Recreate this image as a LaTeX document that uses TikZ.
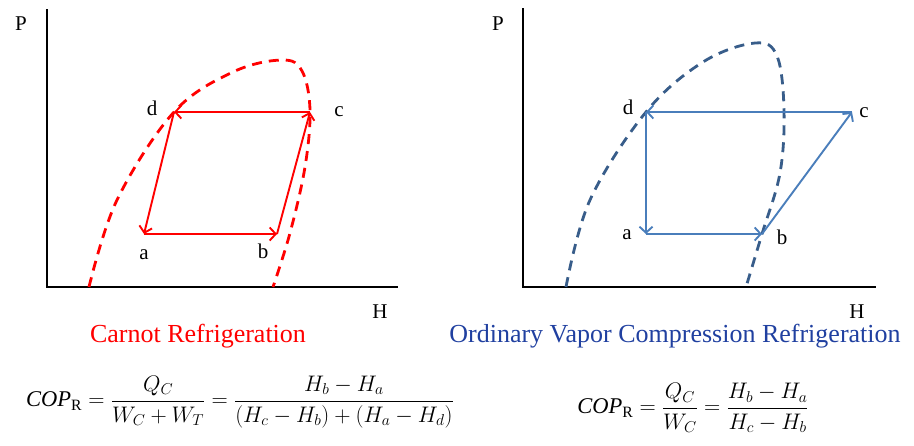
\documentclass[tikz,border=0pt]{standalone}
\usepackage{fix-cm}
\usepackage{amsmath}
\usepackage{fontspec}
\setmainfont{Liberation Serif}
\usetikzlibrary{arrows.meta}

\definecolor{carnotred}{RGB}{255,0,0}
\definecolor{vaporblue}{RGB}{74,126,187}
\definecolor{domeblue}{RGB}{56,93,138}
\definecolor{titleblue}{RGB}{32,64,160}

\begin{document}
\begin{tikzpicture}[x=1pt, y=-1pt,
  every node/.style={font=\fontsize{21}{24}\selectfont, inner sep=0pt},
  axis/.style={line width=1.3pt},
  dome/.style={line width=2.8pt, dash pattern=on 10pt off 7pt},
  arr/.style={-{Straight Barb[length=6pt,width=13pt]}, line width=1.9pt},
  ttl/.style={font=\fontsize{26}{30}\selectfont},
  eqn/.style={font=\fontsize{22.5}{26}\selectfont}
]
  \useasboundingbox (0,0) rectangle (914,445);

  % Carnot cycle
  \draw[axis] (47,9) -- (47,287) -- (398,287);
  \node (P1) at (21,24) {P};
  \node (H1) at (380,312) {H};
  \draw[dome, carnotred] plot[smooth, tension=0.6] coordinates
    {(89,287) (117,200) (174,112) (233,72) (282,60) (302,71) (310,110) (305,167) (290,233) (273,287)};
  \coordinate (a1) at (144,234);
  \coordinate (b1) at (277,234);
  \coordinate (c1) at (310,112);
  \coordinate (d1) at (174,112);
  \node (la1) at (144,255) {a};
  \node (lb1) at (263,251) {b};
  \node (lc1) at (339,112) {c};
  \node (ld1) at (152,108) {d};
  \draw[arr, carnotred] (a1) -- (b1);
  \draw[arr, carnotred] (b1) -- (c1);
  \draw[arr, carnotred] (c1) -- (d1);
  \draw[arr, carnotred] (d1) -- (a1);
  \node[ttl, text=carnotred] (T1) at (198,336) {Carnot Refrigeration};
  \node[eqn] (E1) at (240,402)
    {$\mathit{COP}_{\mathrm{R}} = \dfrac{Q_C}{W_C+W_T} = \dfrac{H_b-H_a}{(H_c-H_b)+(H_a-H_d)}$};

  % vapor compression cycle
  \draw[axis] (523,8) -- (523,287) -- (876,287);
  \node (P2) at (498,24) {P};
  \node (H2) at (857,312) {H};
  \draw[dome, domeblue] plot[smooth, tension=0.6] coordinates
    {(566,287) (590,200) (646,112) (703,62) (755,43) (777,56) (784,110) (780,173) (762,234) (746,287)};
  \coordinate (a2) at (646,234);
  \coordinate (b2) at (762,234);
  \coordinate (c2) at (852,112);
  \coordinate (d2) at (646,112);
  \node (la2) at (627,235) {a};
  \node (lb2) at (782,237) {b};
  \node (lc2) at (864,113) {c};
  \node (ld2) at (628,107) {d};
  \draw[arr, vaporblue] (a2) -- (b2);
  \draw[arr, vaporblue] (b2) -- (c2);
  \draw[arr, vaporblue] (c2) -- (d2);
  \draw[arr, vaporblue] (d2) -- (a2);
  \node[ttl, text=titleblue] (T2) at (675,336) {Ordinary Vapor Compression Refrigeration};
  \node[eqn] (E2) at (693,408)
    {$\mathit{COP}_{\mathrm{R}} = \dfrac{Q_C}{W_C} = \dfrac{H_b-H_a}{H_c-H_b}$};
\end{tikzpicture}
\end{document}
